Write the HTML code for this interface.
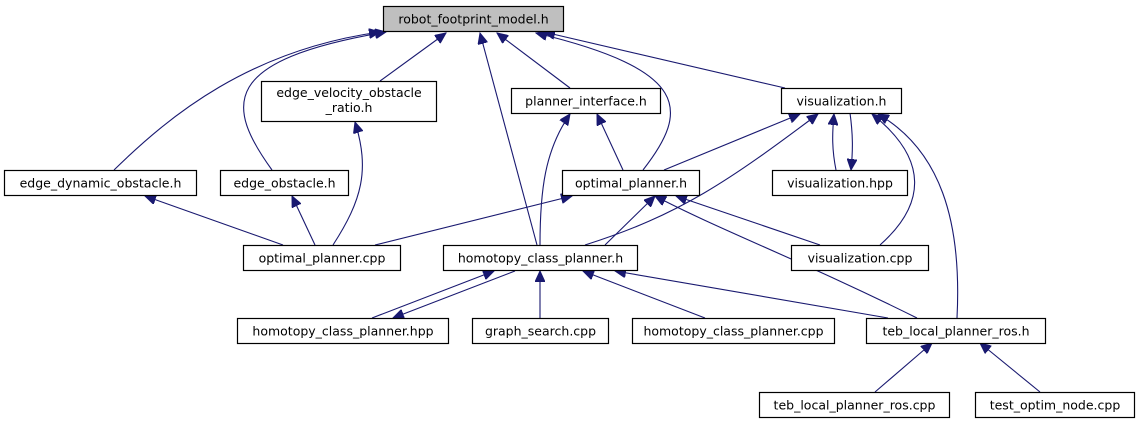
<!DOCTYPE html>
<html><head><meta charset="utf-8"><style>
html,body{margin:0;padding:0;background:#fff;width:1139px;height:425px;overflow:hidden}
svg{display:block}
text{font-family:"DejaVu Sans","Liberation Sans",sans-serif;font-size:12.5px;fill:#000}
.b{fill:#fff;stroke:#000;stroke-width:1.2}
.e{fill:none;stroke:#191970;stroke-width:1.1}
</style></head><body>
<svg width="1139" height="425" viewBox="0 0 1139 425" xmlns="http://www.w3.org/2000/svg">
<defs>
<marker id="a" markerUnits="userSpaceOnUse" markerWidth="12" markerHeight="10" refX="11" refY="5" orient="auto">
<path d="M0,0 L11,5 L0,10 Z" fill="#191970" stroke="#191970"/>
</marker>
</defs>
<g class="e" marker-end="url(#a)">
<path d="M114,170 C170,115 250,50 380,32"/>
<path d="M272,170 C225,105 220,60 386,32"/>
<path d="M380,81 L446,33"/>
<path d="M537,245 L480,33"/>
<path d="M570,88 L497,33"/>
<path d="M643,170 C690,110 690,70 536,33"/>
<path d="M785,88 L544,32"/>
<path d="M333,245 C362,200 370,170 355,122"/>
<path d="M283,245 L145,196"/>
<path d="M315,245 L292,196"/>
<path d="M375,245 L572,196"/>
<path d="M540,245 C540,190 545,150 570,114"/>
<path d="M623,170 L597,114"/>
<path d="M664,170 L800,114"/>
<path d="M585,245 C680,215 730,180 818,114"/>
<path d="M836,170 C832,150 832,135 834,114"/>
<path d="M850,113 C853,135 853,150 851,170"/>
<path d="M880,245 C925,205 930,160 872,114"/>
<path d="M957,318 C962,220 940,150 878,114"/>
<path d="M605,245 L655,196" transform="translate(0,0)"/>
<path d="M917,318 C800,260 720,230 655,196"/>
<path d="M820,245 L676,196"/>
<path d="M372,318 L494,271"/>
<path d="M515,271 L393,318"/>
<path d="M540,318 L540,271"/>
<path d="M705,318 L583,271"/>
<path d="M888,318 L615,271"/>
<path d="M875,392 L932,343"/>
<path d="M1040,392 L980,343"/>
</g>
<rect x="383.5" y="6.5" width="180" height="25" fill="#bfbfbf" stroke="#000" stroke-width="1.2"/>
<text x="473.5" y="23.5" text-anchor="middle">robot_footprint_model.h</text>
<rect class="b" x="261.5" y="81.5" width="175" height="40"/>
<text x="349" y="97" text-anchor="middle">edge_velocity_obstacle</text>
<text x="349" y="112" text-anchor="middle">_ratio.h</text>
<rect class="b" x="511.5" y="88.5" width="149" height="25"/>
<text x="586" y="105.5" text-anchor="middle">planner_interface.h</text>
<rect class="b" x="781.5" y="88.5" width="120" height="25"/>
<text x="841.5" y="105.5" text-anchor="middle">visualization.h</text>
<rect class="b" x="4.5" y="170.5" width="192" height="25"/>
<text x="100.5" y="187.5" text-anchor="middle">edge_dynamic_obstacle.h</text>
<rect class="b" x="220.5" y="170.5" width="128" height="25"/>
<text x="284.5" y="187.5" text-anchor="middle">edge_obstacle.h</text>
<rect class="b" x="562.5" y="170.5" width="137" height="25"/>
<text x="631" y="187.5" text-anchor="middle">optimal_planner.h</text>
<rect class="b" x="772.5" y="170.5" width="135" height="25"/>
<text x="840" y="187.5" text-anchor="middle">visualization.hpp</text>
<rect class="b" x="243.5" y="245.5" width="157" height="25"/>
<text x="322" y="262.5" text-anchor="middle">optimal_planner.cpp</text>
<rect class="b" x="443.5" y="245.5" width="194" height="25"/>
<text x="540.5" y="262.5" text-anchor="middle">homotopy_class_planner.h</text>
<rect class="b" x="791.5" y="245.5" width="137" height="25"/>
<text x="860" y="262.5" text-anchor="middle">visualization.cpp</text>
<rect class="b" x="237.5" y="318.5" width="211" height="25"/>
<text x="343" y="335.5" text-anchor="middle">homotopy_class_planner.hpp</text>
<rect class="b" x="472.5" y="318.5" width="136" height="25"/>
<text x="540.5" y="335.5" text-anchor="middle">graph_search.cpp</text>
<rect class="b" x="632.5" y="318.5" width="202" height="25"/>
<text x="733.5" y="335.5" text-anchor="middle">homotopy_class_planner.cpp</text>
<rect class="b" x="866.5" y="318.5" width="179" height="25"/>
<text x="956" y="335.5" text-anchor="middle">teb_local_planner_ros.h</text>
<rect class="b" x="759.5" y="392.5" width="190" height="25"/>
<text x="854.5" y="409.5" text-anchor="middle">teb_local_planner_ros.cpp</text>
<rect class="b" x="975.5" y="392.5" width="159" height="25"/>
<text x="1055" y="409.5" text-anchor="middle">test_optim_node.cpp</text>
</svg>
</body></html>
